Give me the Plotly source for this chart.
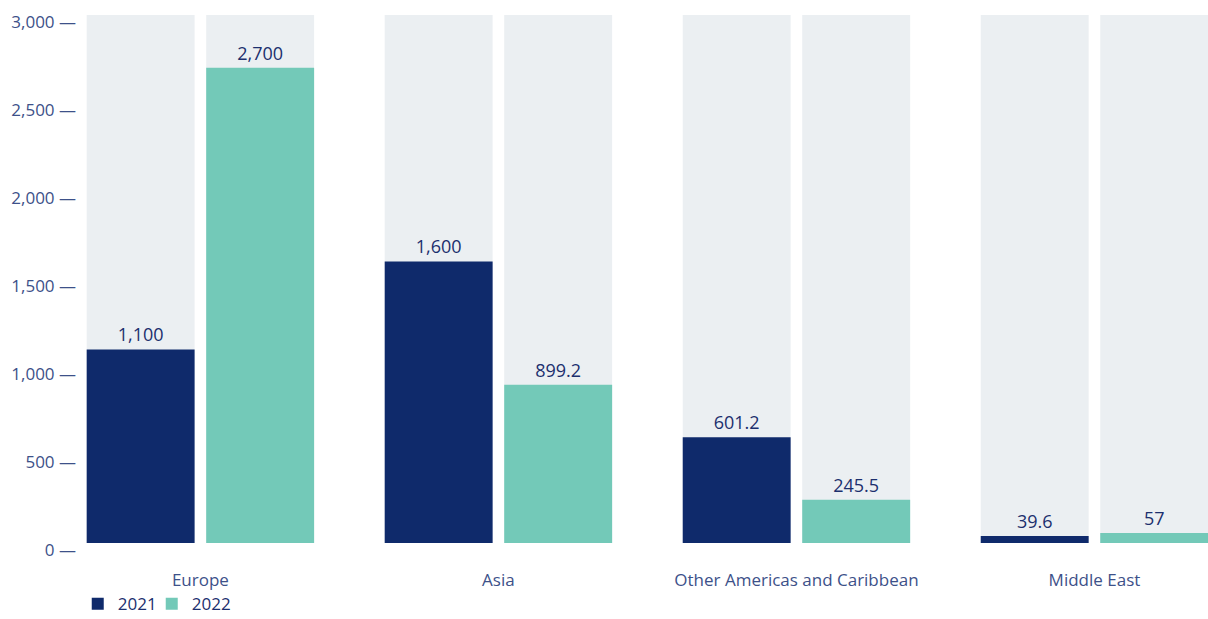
import plotly.graph_objects as go

regions = ["Europe", "Asia", "Other Americas and Caribbean", "Middle East"]
values_2021 = [1100, 1600, 601.2, 39.6]
values_2022 = [2700, 899.2, 245.5, 57]
track_max = 3000
track_values = [track_max for _ in regions]
y_ticks = [0, 500, 1000, 1500, 2000, 2500, 3000]
y_tick_text = [f"{v:,} —" for v in y_ticks]

NAVY = "#0f2a6b"
TEAL = "#73c9b8"
TRACK = "#ebeff2"
AXIS_TXT = "#3d5189"
LABEL_TXT = "#1c2f6e"
FONT = "Open Sans"

fig = go.Figure()
for grp in ["a", "b"]:
    fig.add_trace(go.Bar(
        x=regions, y=track_values, offsetgroup=grp,
        marker=dict(color=TRACK, line=dict(width=0)),
        showlegend=False, hoverinfo="skip",
    ))

fig.add_trace(go.Bar(
    x=regions, y=values_2021, name="2021", offsetgroup="a",
    marker=dict(color=NAVY, line=dict(width=0)),
    texttemplate="%{y:,}", textposition="outside",
    textfont=dict(family=FONT, size=18, color=LABEL_TXT),
    cliponaxis=False, legend="legend",
))
fig.add_trace(go.Bar(
    x=regions, y=values_2022, name="2022", offsetgroup="b",
    marker=dict(color=TEAL, line=dict(width=0)),
    texttemplate="%{y:,}", textposition="outside",
    textfont=dict(family=FONT, size=18, color=LABEL_TXT),
    cliponaxis=False, legend="legend2",
))

legend_style = dict(
    orientation="h", xanchor="left", y=-0.116, yanchor="middle",
    font=dict(family=FONT, size=17, color=LABEL_TXT), itemwidth=30,
    bgcolor="rgba(0,0,0,0)",
)

fig.update_layout(
    width=1208, height=619,
    margin=dict(l=80, r=0, t=15, b=76, autoexpand=False),
    paper_bgcolor="white", plot_bgcolor="white",
    barmode="group", bargap=0.198, bargroupgap=0.097,
    font=dict(family=FONT, color=AXIS_TXT, size=17),
    xaxis=dict(
        range=[-0.404, 3.381], showgrid=False, zeroline=False, showline=False,
        ticks="", tickfont=dict(family=FONT, size=17, color=AXIS_TXT),
        ticklabelstandoff=25, automargin=False,
    ),
    yaxis=dict(
        range=[0, track_max], tickvals=y_ticks, ticktext=y_tick_text,
        showgrid=False, zeroline=False, showline=False,
        ticks="", tickfont=dict(family=FONT, size=17, color=AXIS_TXT),
        ticklabelshift=7, ticklabelstandoff=3, automargin=False,
    ),
    legend=dict(x=-0.002, **legend_style),
    legend2=dict(x=0.0636, **legend_style),
)

fig.write_html("out.html", config={"displayModeBar": False},
               post_script="document.body.style.margin='0';")
